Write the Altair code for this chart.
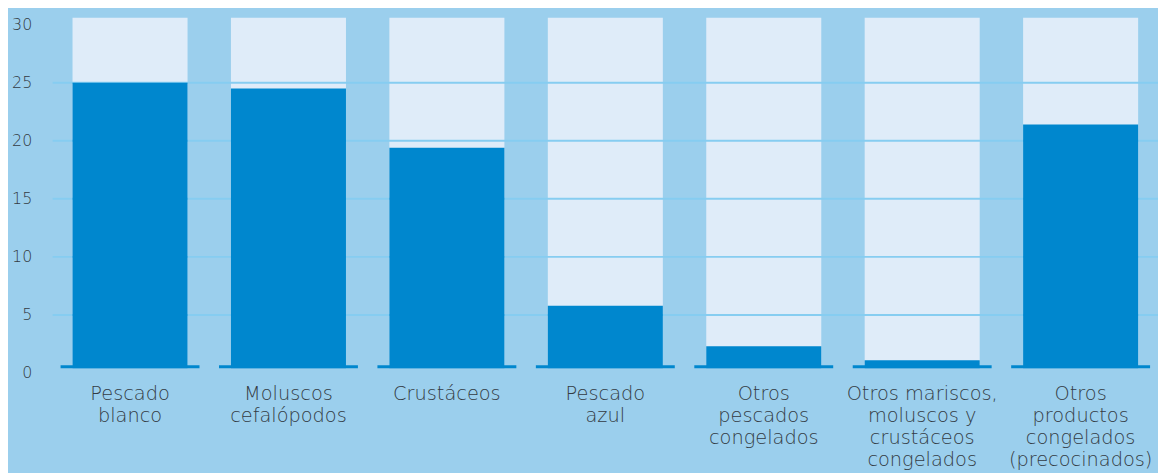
import altair as alt
import pandas as pd

categories = [
    "Pescado|blanco",
    "Moluscos|cefalópodos",
    "Crustáceos",
    "Pescado|azul",
    "Otros|pescados|congelados",
    "Otros mariscos,|moluscos y|crustáceos|congelados",
    "Otros|productos|congelados|(precocinados)",
]
values = [25.0, 24.5, 19.4, 5.8, 2.3, 1.1, 21.4]
y_ticks = [0, 5, 10, 15, 20, 25, 30]
grid_values = [5, 10, 15, 20, 25]
y_max = 30.6
bar_floor = 0.4
base_top = 0.66

BG = "#9bcfed"
LIGHT = "#dfecf9"
DARK = "#0087ce"
GRID = "#86cdf1"
TEXT = "#333b44"
FONT = "DejaVu Sans"

df = pd.DataFrame({"cat": categories, "val": values})
df["top"] = y_max
df["floor"] = bar_floor
df["btop"] = base_top
grid_df = pd.DataFrame({"g": grid_values})

x_scale = alt.Scale(domain=categories, paddingInner=0.274,
                    paddingOuter=0.1254, round=False)
y_scale = alt.Scale(domain=[0, y_max], nice=False)

x_axis = alt.Axis(labelExpr="split(datum.label, '|')", labelAngle=0,
                  labelFont=FONT, labelFontSize=19.5, labelFontWeight=200,
                  labelColor=TEXT, labelLineHeight=22, labelPadding=12,
                  labelBaseline="top", domain=False, ticks=False, grid=False,
                  labelOverlap=False)
y_axis = alt.Axis(values=y_ticks, labelFont=FONT, labelFontSize=16,
                  labelFontWeight=200, labelColor=TEXT, labelPadding=21,
                  domain=False, ticks=False, grid=False)


def xe():
    return alt.X("cat:N", scale=x_scale, sort=categories, title=None, axis=x_axis)


def ye(field):
    return alt.Y(field, scale=y_scale, title=None, axis=y_axis)


bg_bars = alt.Chart(df).mark_bar(color=LIGHT).encode(
    x=xe(), y=ye("top:Q"), y2=alt.Y2("floor:Q"))

grid = alt.Chart(grid_df).mark_rule(color=GRID, strokeWidth=2).encode(
    y=ye("g:Q"), x=alt.value(0), x2=alt.value(1114))

fg_bars = alt.Chart(df).mark_bar(color=DARK).encode(
    x=xe(), y=ye("val:Q"), y2=alt.Y2("floor:Q"))

base = alt.Chart(df).mark_bar(color=DARK, size=140).encode(
    x=xe(), y=ye("btop:Q"), y2=alt.Y2("floor:Q"))

chart = alt.layer(bg_bars, grid, fg_bars, base).properties(
    width=1114, height=358, background=BG,
    autosize=alt.AutoSizeParams(type="none"),
    padding={"left": 45, "top": 8, "right": 0, "bottom": 99},
).configure_view(stroke=None)

chart.save("out.html", embed_options={"renderer": "svg", "actions": False})
